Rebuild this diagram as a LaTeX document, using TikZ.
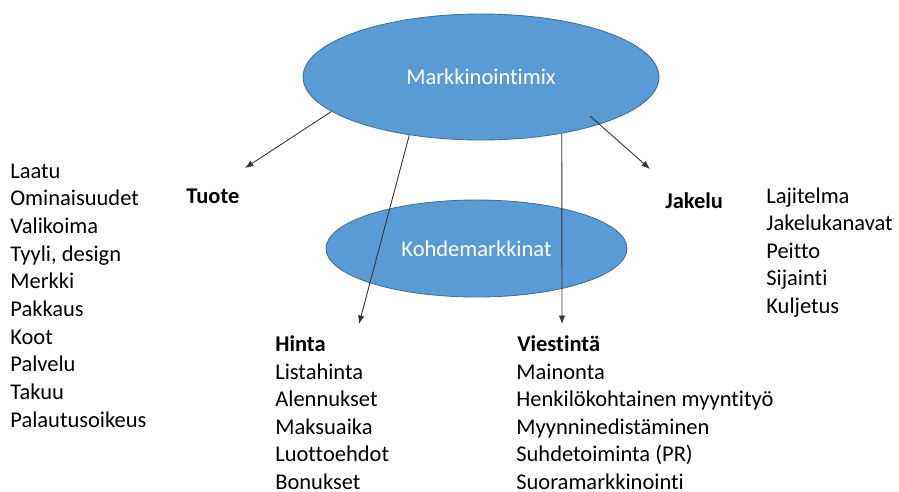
\documentclass[tikz,border=0pt]{standalone}
\usepackage{fontspec}
\setmainfont{Carlito}[Ligatures={NoCommon,NoRequired,NoContextual}]
\usetikzlibrary{shapes.geometric,arrows.meta}
\definecolor{mixblue}{HTML}{5B9BD5}
\definecolor{mixedge}{HTML}{41719C}
\tikzset{
    oval/.style={ellipse, fill=mixblue, draw=mixedge, line width=0.5pt,
        text=white, inner sep=0pt, font=\fontsize{12.8}{14}\selectfont},
    item/.style={anchor=base west, inner sep=0pt, font=\fontsize{12.8}{14}\selectfont},
    head/.style={item, font=\fontsize{12.8}{14}\selectfont\bfseries},
    link/.style={draw=black!80, line width=0.5pt, -{Latex[length=1.7mm,width=1.3mm]}}
}
\begin{document}
\begin{tikzpicture}[x=0.02cm, y=-0.02cm]
    \useasboundingbox (0,0) rectangle (899,491);

    % Ellipses
    \node[oval, minimum width=7.12cm, minimum height=2.52cm] (mix) at (481,77) {Markkinointimix};
    \node[oval, minimum width=6.02cm, minimum height=1.94cm] (kohde) at (476.5,248.5) {Kohdemarkkinat};

    % Tuote
    \node[head] (tuote) at (186,203) {Tuote};
    \foreach \t [count=\i] in {Laatu, Ominaisuudet, Valikoima, {Tyyli, design}, Merkki,
        Pakkaus, Koot, Palvelu, Takuu, Palautusoikeus}
        \node[item] (tuote\i) at (10,{178+27.7*(\i-1)}) {\t};

    % Jakelu
    \node[head] (jakelu) at (665,208) {Jakelu};
    \foreach \t [count=\i] in {Lajitelma, Jakelukanavat, Peitto, Sijainti, Kuljetus}
        \node[item] (jakelu\i) at (766,{203+27.5*(\i-1)}) {\t};

    % Hinta
    \node[head] (hinta) at (275,351) {Hinta};
    \foreach \t [count=\i] in {Listahinta, Alennukset, Maksuaika, Luottoehdot, Bonukset}
        \node[item] (hinta\i) at (275,{379+27.5*(\i-1)}) {\t};

    % Viestinta
    \node[head] (viesti) at (517,351) {Viestintä};
    \foreach \t [count=\i] in {Mainonta, Henkilökohtainen myyntityö, Myynninedistäminen,
        Suhdetoiminta (PR), Suoramarkkinointi}
        \node[item] (viesti\i) at (516,{379+27.5*(\i-1)}) {\t};

    % Arrows
    \coordinate (tuotetip) at (245,168);
    \coordinate (hintatip) at (359,324);
    \coordinate (viestitip) at (562,324);
    \coordinate (jakelustart) at (590,116);
    \coordinate (jakelutip) at (650,169);
    \draw[link] (mix.193) -- (tuotetip);
    \draw[link] (mix.219) -- (hintatip);
    \draw[link] (mix.325) -- (viestitip);
    \draw[link] (jakelustart) -- (jakelutip);
\end{tikzpicture}
\end{document}
